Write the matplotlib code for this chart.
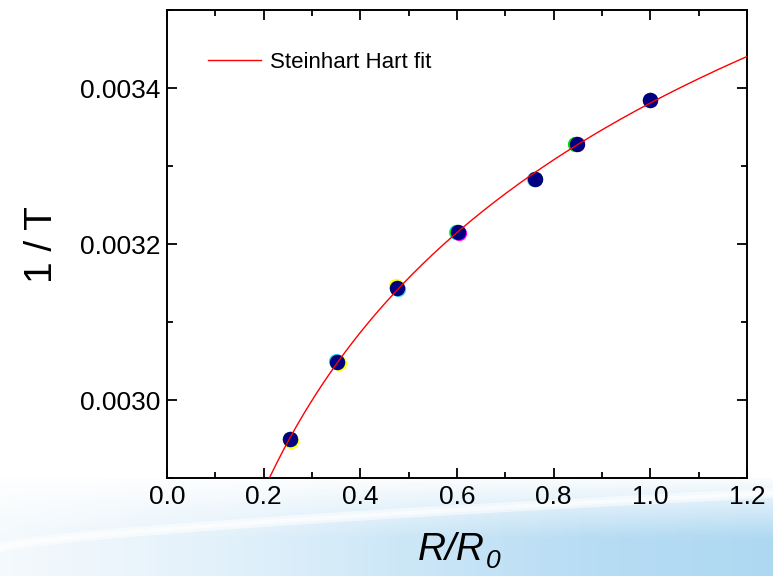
import matplotlib
matplotlib.use("Agg")
import matplotlib.pyplot as plt
import numpy as np
from matplotlib.ticker import MultipleLocator, FormatStrFormatter
from matplotlib.colors import LinearSegmentedColormap

plt.rcParams["font.family"] = ["Liberation Sans", "DejaVu Sans"]

# measured R/R0 and 1/T (main run, drawn on top)
r_ratio = [0.254, 0.352, 0.476, 0.602, 0.761, 0.848, 1.000]
inv_t = [0.002950, 0.003049, 0.003144, 0.003215, 0.003284, 0.003328, 0.003385]

# repeated runs, almost hidden behind the main points
r_run_yellow = [0.257, 0.355, 0.473, 0.600, 0.761, 0.848, 1.000]
t_run_yellow = [0.002948, 0.003047, 0.003146, 0.003215, 0.003284, 0.003328, 0.003385]
r_run_cyan = [0.254, 0.350, 0.479, 0.599, 0.760, 0.846, 1.000]
t_run_cyan = [0.002950, 0.003050, 0.003142, 0.003216, 0.003284, 0.003329, 0.003385]
r_run_magenta = [0.254, 0.352, 0.476, 0.605, 0.761, 0.848, 1.000]
t_run_magenta = [0.002950, 0.003049, 0.003144, 0.003214, 0.003284, 0.003328, 0.003385]
r_run_green = [0.254, 0.352, 0.476, 0.600, 0.761, 0.844, 1.000]
t_run_green = [0.002950, 0.003049, 0.003144, 0.003216, 0.003284, 0.003329, 0.003385]

x_ticks = [0.0, 0.2, 0.4, 0.6, 0.8, 1.0, 1.2]

fig = plt.figure(figsize=(7.73, 5.76), dpi=100)

# slide background: soft blue band with a pale swoosh
bg = fig.add_axes([0, 0, 1, 1], zorder=0)
bg.set_xlim(0, 773)
bg.set_ylim(576, 0)
bg.axis("off")
grad = np.linspace(0.0, 1.0, 256).reshape(1, -1)
blue = LinearSegmentedColormap.from_list("sw", ["#e4f2fb", "#c2e2f6", "#aed8f2"])
bg.imshow(grad, extent=[0, 773, 576, 478], aspect="auto", cmap=blue)
fade = LinearSegmentedColormap.from_list("w", [(1, 1, 1, 0.95), (1, 1, 1, 0)])
vert = np.linspace(0, 1, 50).reshape(-1, 1)
bg.imshow(vert, extent=[0, 773, 540, 478], aspect="auto", cmap=fade)
bg.imshow(grad, extent=[0, 600, 576, 478], aspect="auto",
          cmap=LinearSegmentedColormap.from_list("h", [(1, 1, 1, 0.6), (1, 1, 1, 0)]))
xs = np.linspace(0, 773, 80)
bg.plot(xs, 548 - 55 * (xs / 773) ** 0.7, color="white", lw=7, alpha=0.55)
bg.plot(xs, 548 - 55 * (xs / 773) ** 0.7, color="white", lw=3, alpha=0.6)

ax = fig.add_axes([0.216, 0.170, 0.7503, 0.8124], zorder=2)
ax.set_facecolor("white")

for rx, ty, c in [(r_run_yellow, t_run_yellow, "#ffff00"),
                  (r_run_cyan, t_run_cyan, "#33ddff"),
                  (r_run_magenta, t_run_magenta, "#ff00ff"),
                  (r_run_green, t_run_green, "#00dd00")]:
    ax.plot(rx, ty, "o", color=c, ms=11, mec="none", zorder=2)
ax.plot(r_ratio, inv_t, "o", color="#000080", ms=11, mec="none", zorder=3)

# Steinhart-Hart fit: 1/T = a + b ln(R) + c ln(R)^3
L = np.log(r_ratio)
A = np.column_stack([np.ones_like(L), L, L ** 3])
coef, *_ = np.linalg.lstsq(A, np.array(inv_t), rcond=None)
xf = np.linspace(0.18, 1.2, 300)
Lf = np.log(xf)
ax.plot(xf, coef[0] + coef[1] * Lf + coef[2] * Lf ** 3, color="red", lw=1.0,
        zorder=4, label="Steinhart Hart fit")

ax.set_xlim(0.0, 1.2)
ax.set_ylim(0.0029, 0.0035)
ax.set_xticks(x_ticks)
ax.xaxis.set_minor_locator(MultipleLocator(0.1))
ax.yaxis.set_major_locator(MultipleLocator(0.0002))
ax.yaxis.set_minor_locator(MultipleLocator(0.0001))
ax.yaxis.set_major_formatter(FormatStrFormatter("%.4f"))
ax.tick_params(which="both", direction="in", top=True, right=True, width=1.3,
               labelsize=19, colors="black")
ax.tick_params(which="major", length=7, pad=5)
ax.tick_params(which="minor", length=4)
for s in ax.spines.values():
    s.set_linewidth(1.4)

ax.set_ylabel("1 / T", fontsize=28, labelpad=14)
ax.set_xlabel("R/R", fontsize=28, style="italic")
ax.xaxis.set_label_coords(0.49, -0.115)

# italic subscript 0 right after the x label
fig.canvas.draw()
bb = ax.xaxis.label.get_window_extent()
fig.text(bb.x1 + 1, bb.y0 - 5, "0", fontsize=19, style="italic",
         ha="left", va="bottom", transform=None)

ax.legend(loc="upper left", bbox_to_anchor=(0.036, 0.953), frameon=False, fontsize=16,
          handlelength=2.4, handletextpad=0.4)

fig.savefig("out.png", dpi=100)
plt.close(fig)
